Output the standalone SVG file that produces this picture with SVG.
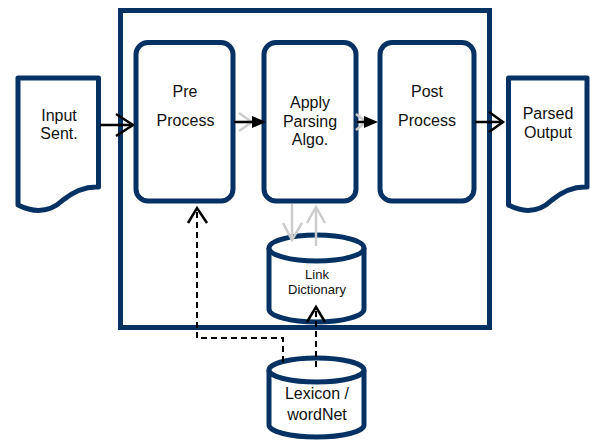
<svg xmlns="http://www.w3.org/2000/svg" width="590" height="443" viewBox="0 0 590 443">
<style>
.n{fill:#fff;stroke:#063263;stroke-width:5;stroke-linejoin:round}
.t{font-family:"Liberation Sans",Arial,sans-serif;font-size:16px;fill:#111;text-anchor:middle}
.s{font-size:13px}
.blk{stroke:#000;stroke-width:2.5;fill:none}
.gry{stroke:#cccccc;stroke-width:2.5;fill:none}
.dsh{stroke:#000;stroke-width:2;fill:none;stroke-dasharray:6 4}
.head{stroke:#000;stroke-width:2.5;fill:none}
</style>
<rect width="590" height="443" fill="#fff"/>
<g id="container"><rect x="120.5" y="10.5" width="369" height="317" fill="#fff" stroke="#063263" stroke-width="5"/></g>
<g id="input"><path class="n" d="M18,78 H98.5 V187 Q80.5,186 63,200 Q44,218 18,205 Z"/><text class="t" x="59" y="121">Input</text><text class="t" x="59" y="138.5">Sent.</text></g>
<g id="output"><path class="n" d="M508.5,78 H587 V187 Q569,186 552,200 Q533,218 508.5,205 Z"/><text class="t" x="548" y="119">Parsed</text><text class="t" x="548" y="138">Output</text></g>
<g id="pre"><rect class="n" x="136" y="42.5" width="97" height="158.5" rx="12"/><text class="t" x="185" y="97">Pre</text><text class="t" x="185.5" y="126">Process</text></g>
<g id="apply"><rect class="n" x="264" y="42.5" width="92" height="158.5" rx="12"/><text class="t" x="310" y="108">Apply</text><text class="t" x="310" y="126.5">Parsing</text><text class="t" x="310" y="145">Algo.</text></g>
<g id="post"><rect class="n" x="380" y="42.5" width="94" height="158.5" rx="12"/><text class="t" x="427" y="97">Post</text><text class="t" x="427" y="126">Process</text></g>
<g id="linkdict"><path class="n" d="M269,248 A47.5,13 0 0 1 364,248 V309 A47.5,13 0 0 1 269,309 Z"/><path class="n" fill="none" d="M269,248 A47.5,13 0 0 0 364,248"/><text class="t s" x="317" y="279">Link</text><text class="t s" x="317" y="294">Dictionary</text></g>
<g id="lexicon"><path class="n" d="M269,370 A47.5,12 0 0 1 364,370 V425 A47.5,12 0 0 1 269,425 Z"/><path class="n" fill="none" d="M269,370 A47.5,12 0 0 0 364,370"/><text class="t" x="317" y="399">Lexicon /</text><text class="t" x="317" y="420">wordNet</text></g>
<g id="connectors">
<path class="blk" d="M100,125 H133"/><path class="head" d="M116,114 L133,125 L116,136"/>
<path class="blk" d="M475,122 H503"/><path class="head" d="M489,112 L503,122 L489,132"/>
<path class="gry" d="M234,122 H252"/><path class="gry" d="M239,113 L252,122 L239,131"/>
<path class="blk" d="M234,122 H254"/><path d="M252,116 L266,122 L252,128 Z" fill="#000"/>
<path class="gry" d="M357,122 H366"/><path class="gry" d="M356,114 L366,122 L356,130"/>
<path class="blk" d="M357,122 H366"/><path d="M364,116 L378,122 L364,128 Z" fill="#000"/>
<path class="gry" d="M292,204 V240"/><path class="gry" d="M283,223 L292,240 L302,223"/>
<path class="gry" d="M316,246 V207"/><path class="gry" d="M307,223 L316,207 L325,223"/>
<path class="dsh" d="M283,362 V338 H197 V209"/><path class="head" d="M188,223 L197,208 L207,223"/>
<path class="dsh" d="M316,367 V309"/><path class="head" d="M307,322 L316,307 L325,322"/>
</g>
</svg>
